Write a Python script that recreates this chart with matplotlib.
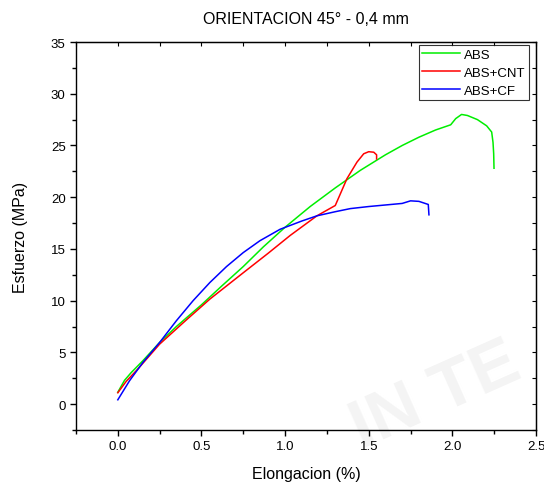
import matplotlib
matplotlib.use("Agg")
import matplotlib.pyplot as plt
from matplotlib.ticker import MultipleLocator

plt.rcParams["font.family"] = ["Liberation Sans", "DejaVu Sans"]

# curves (elongation %, stress MPa)
abs_x = [0.0, 0.04, 0.08, 0.15, 0.25, 0.35, 0.5, 0.62, 0.75, 0.87, 1.0, 1.15,
         1.3, 1.45, 1.6, 1.7, 1.8, 1.9, 1.99, 2.02, 2.055, 2.09, 2.15, 2.205,
         2.235, 2.243, 2.247, 2.249]
abs_y = [1.15, 2.3, 3.05, 4.2, 5.96, 7.5, 9.6, 11.4, 13.3, 15.2, 17.1, 19.1,
         20.9, 22.6, 24.1, 25.0, 25.8, 26.5, 27.0, 27.6, 28.0, 27.9, 27.5, 26.9,
         26.3, 25.3, 24.2, 22.8]

cnt_x = [0.0, 0.05, 0.12, 0.25, 0.4, 0.55, 0.75, 0.9, 1.03, 1.19, 1.3,
         1.37, 1.43, 1.47, 1.5, 1.53, 1.547, 1.547]
cnt_y = [1.1, 2.2, 3.4, 5.8, 8.0, 10.15, 12.7, 14.6, 16.3, 18.2, 19.2,
         21.8, 23.4, 24.2, 24.4, 24.35, 24.1, 23.7]

cf_x = [0.0, 0.07, 0.15, 0.25, 0.35, 0.45, 0.55, 0.65, 0.75, 0.85, 0.97,
        1.1, 1.19, 1.3, 1.39, 1.5, 1.6, 1.7, 1.75, 1.8, 1.856, 1.86]
cf_y = [0.42, 2.26, 4.03, 5.96, 8.06, 10.0, 11.75, 13.3, 14.65, 15.8, 16.9,
        17.7, 18.2, 18.6, 18.9, 19.1, 19.25, 19.4, 19.65, 19.6, 19.3, 18.3]

fig = plt.figure(figsize=(5.44, 4.89), dpi=100)
ax = fig.add_axes([0.1397, 0.1186, 0.8456, 0.7934])

# faint watermark behind everything
fig.text(0.80, 0.19, "IN TE", fontsize=50, fontweight="bold", color="#f4f4f4",
         rotation=24, ha="center", va="center", zorder=-5)
ax.patch.set_alpha(0)

ax.plot(abs_x, abs_y, color="#00ee00", lw=1.1, label="ABS")
ax.plot(cnt_x, cnt_y, color="#ff0000", lw=1.1, label="ABS+CNT")
ax.plot(cf_x, cf_y, color="#0000ff", lw=1.1, label="ABS+CF")

ax.set_xlim(-0.25, 2.5)
ax.set_ylim(-2.5, 35)
ax.xaxis.set_major_locator(MultipleLocator(0.5))
ax.xaxis.set_minor_locator(MultipleLocator(0.25))
ax.yaxis.set_major_locator(MultipleLocator(5))
ax.yaxis.set_minor_locator(MultipleLocator(2.5))
ax.xaxis.set_major_formatter(matplotlib.ticker.FormatStrFormatter("%.1f"))

ax.tick_params(which="major", direction="out", length=4, width=1, labelsize=9.5)
ax.tick_params(which="minor", direction="out", length=3, width=1)
for sp in ax.spines.values():
    sp.set_linewidth(1)

# inward ticks on top and right
top = ax.secondary_xaxis("top")
top.xaxis.set_major_locator(MultipleLocator(0.25))
top.tick_params(direction="in", length=3, labeltop=False)
right = ax.secondary_yaxis("right")
right.yaxis.set_major_locator(MultipleLocator(2.5))
right.tick_params(direction="in", length=3, labelright=False)

ax.set_xlabel("Elongacion (%)", fontsize=11.5, labelpad=10)
ax.set_ylabel("Esfuerzo (MPa)", fontsize=11.5, labelpad=16)
ax.set_title("ORIENTACION 45° - 0,4 mm", fontsize=11.5, pad=14)

leg = ax.legend(loc="upper right", bbox_to_anchor=(0.9724, 0.906),
                bbox_transform=fig.transFigure, borderaxespad=0,
                fontsize=9.5, frameon=True, fancybox=False, edgecolor="black",
                handlelength=2.9, handletextpad=0.3, labelspacing=0.45,
                borderpad=0.25)
leg.get_frame().set_linewidth(0.8)

fig.savefig("out.png", dpi=100)
